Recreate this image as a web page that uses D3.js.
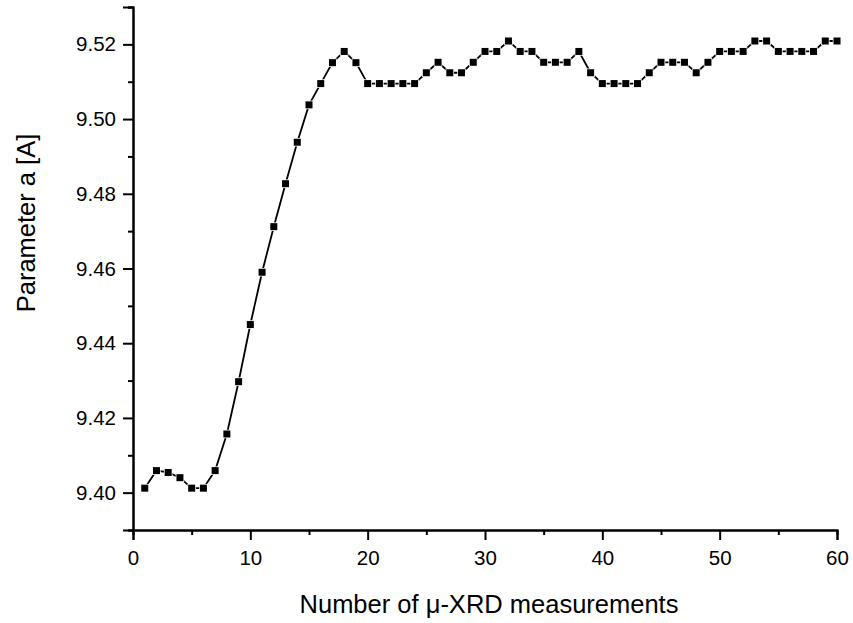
<!DOCTYPE html>
<html>
<head>
<meta charset="utf-8">
<script src="https://cdn.jsdelivr.net/npm/d3@7"></script>
<style>
  body { margin: 0; background: #fff; }
  svg { font-family: "Liberation Sans", Arial, sans-serif; }
</style>
</head>
<body>
<div id="chart"></div>
<script>
// measurement index
let measurements = d3.range(1, 61)

// lattice parameter a
let paramA = [
  9.4012, 9.4059, 9.4054, 9.4040, 9.4012, 9.4012, 9.4059, 9.4157, 9.4297, 9.4450,
  9.4590, 9.4712, 9.4827, 9.4938, 9.5038, 9.5095, 9.5151, 9.5181, 9.5151, 9.5095,
  9.5095, 9.5095, 9.5095, 9.5095, 9.5124, 9.5152, 9.5124, 9.5124, 9.5152, 9.5181,
  9.5181, 9.5209, 9.5181, 9.5181, 9.5152, 9.5152, 9.5152, 9.5181, 9.5124, 9.5095,
  9.5095, 9.5095, 9.5095, 9.5124, 9.5152, 9.5152, 9.5152, 9.5124, 9.5152, 9.5181,
  9.5181, 9.5181, 9.5209, 9.5209, 9.5181, 9.5181, 9.5181, 9.5181, 9.5209, 9.5209
]

let xTicks = [0, 10, 20, 30, 40, 50, 60]
let xMinor = [5, 15, 25, 35, 45, 55]
let yTicks = [9.40, 9.42, 9.44, 9.46, 9.48, 9.50, 9.52]
let yMinor = [9.39, 9.41, 9.43, 9.45, 9.47, 9.49, 9.51, 9.53]

let data = measurements.map((m, i) => [m, paramA[i]])

let width = 853
let height = 623
let margin = { top: 7, right: 16, bottom: 93, left: 133 }
let innerWidth = width - margin.left - margin.right
let innerHeight = height - margin.top - margin.bottom

let svg = d3.select('#chart').append('svg')
  .attr('width', width)
  .attr('height', height)

let g = svg.append('g')
  .attr('transform', 'translate(' + margin.left + ',' + margin.top + ')')

let xScale = d3.scaleLinear().domain([0, 60]).range([0, innerWidth])
let yScale = d3.scaleLinear().domain([9.39, 9.53]).range([innerHeight, 0])

// minor ticks first, majors drawn on top
g.append('g')
  .attr('class', 'x minor')
  .attr('transform', 'translate(0,' + innerHeight + ')')
  .call(d3.axisBottom(xScale).tickValues(xMinor).tickSize(5).tickFormat(''))

g.append('g')
  .attr('class', 'y minor')
  .call(d3.axisLeft(yScale).tickValues(yMinor).tickSize(5).tickFormat(''))

g.append('g')
  .attr('class', 'x axis')
  .attr('transform', 'translate(0,' + innerHeight + ')')
  .call(d3.axisBottom(xScale).tickValues(xTicks).tickSize(10).tickPadding(10).tickFormat(d3.format('d')))

g.append('g')
  .attr('class', 'y axis')
  .call(d3.axisLeft(yScale).tickValues(yTicks).tickSize(10).tickPadding(7).tickFormat(d3.format('.2f')))

g.selectAll('.domain')
  .attr('stroke', '#000')
  .attr('stroke-width', 2)
g.selectAll('.tick line')
  .attr('stroke', '#000')
  .attr('stroke-width', 2)
g.selectAll('.tick text')
  .style('font-size', '20.5px')
  .attr('fill', '#000')

// axis titles
let xTitle = svg.append('text')
  .attr('x', 489)
  .attr('y', 613)
  .attr('text-anchor', 'middle')
  .style('font-size', '25.5px')
xTitle.append('tspan').text('Number of ')
xTitle.append('tspan').text('\u03bc')
xTitle.append('tspan').text('-XRD measurements')

svg.append('text')
  .attr('transform', 'translate(35,223) rotate(-90)')
  .attr('text-anchor', 'middle')
  .style('font-size', '25.5px')
  .text('Parameter a [A]')

let line = d3.line()
  .x(d => xScale(d[0]))
  .y(d => yScale(d[1]))

g.append('path')
  .datum(data)
  .attr('fill', 'none')
  .attr('stroke', '#000')
  .attr('stroke-width', 1.8)
  .attr('d', line)

let size = 7
g.selectAll('.pt')
  .data(data)
  .enter().append('rect')
  .attr('class', 'pt')
  .attr('x', d => xScale(d[0]) - size / 2)
  .attr('y', d => yScale(d[1]) - size / 2)
  .attr('width', size)
  .attr('height', size)
  .attr('fill', '#000')
  .attr('stroke', '#fff')
  .attr('stroke-width', 1.5)
  .attr('paint-order', 'stroke')
</script>
</body>
</html>
